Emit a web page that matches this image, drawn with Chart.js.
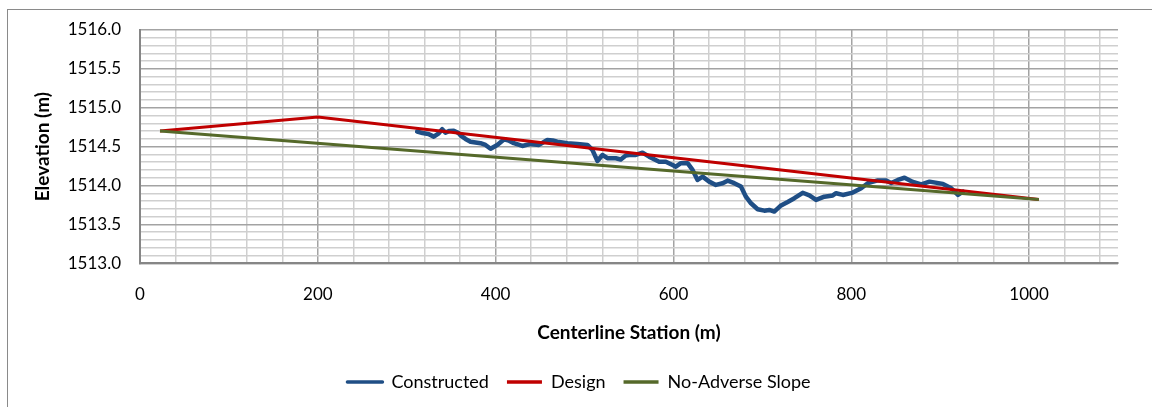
<!DOCTYPE html>
<html>
<head>
<meta charset="utf-8">
<script src="https://cdn.jsdelivr.net/npm/chart.js@4/dist/chart.umd.min.js"></script>
<style>
  html, body { margin: 0; padding: 0; background: #ffffff; overflow: hidden; }
  #wrap { position: relative; width: 1152px; height: 407px; }
  #frame { position: absolute; left: 7px; top: 9px; width: 1160px; height: 420px;
           border: 1px solid #8a8a8a; box-sizing: border-box; pointer-events: none; }
  canvas { position: absolute; left: 0; top: 0; }
</style>
</head>
<body>
<div id="wrap">
  <canvas id="chart" width="1152" height="407"></canvas>
  <div id="frame"></div>
</div>
<script>
// Surveyed centerline profile (station in m, elevation in m)
const constructedStation = [
  311.7, 317.7, 324.4, 330.4, 336.0, 339.9, 343.6, 348.1, 352.9, 358.6,
  360.5, 366.1, 371.7, 383.0, 388.6, 394.3, 401.8, 409.3, 414.6, 420.5,
  430.0, 439.3, 448.7, 458.1, 464.1, 469.4, 480.7, 492.0, 503.2, 508.8,
  514.5, 520.1, 525.7, 535.1, 540.7, 546.4, 550.1, 557.6, 565.2, 572.6,
  583.9, 591.4, 599.0, 602.7, 608.3, 615.9, 621.5, 627.1, 632.8, 640.2,
  647.7, 655.3, 660.9, 668.4, 675.9, 681.5, 687.2, 694.7, 702.2, 707.8,
  713.4, 721.0, 728.5, 736.0, 745.4, 752.9, 760.4, 769.7, 779.2, 782.9,
  790.5, 801.7, 811.1, 818.6, 829.9, 839.2, 844.9, 852.4, 859.9, 869.3,
  878.7, 888.0, 903.1, 912.5, 920.0, 925.6
];
const constructedElev = [
  1514.693, 1514.676, 1514.663, 1514.629, 1514.672, 1514.724, 1514.680, 1514.702, 1514.706, 1514.672,
  1514.644, 1514.599, 1514.564, 1514.544, 1514.522, 1514.473, 1514.522, 1514.593, 1514.580, 1514.544,
  1514.509, 1514.535, 1514.522, 1514.586, 1514.580, 1514.564, 1514.544, 1514.535, 1514.522, 1514.458,
  1514.316, 1514.393, 1514.351, 1514.351, 1514.335, 1514.387, 1514.393, 1514.393, 1514.423, 1514.371,
  1514.307, 1514.307, 1514.265, 1514.243, 1514.287, 1514.287, 1514.201, 1514.072, 1514.114, 1514.050,
  1514.008, 1514.030, 1514.063, 1514.030, 1513.986, 1513.857, 1513.772, 1513.695, 1513.677, 1513.686,
  1513.665, 1513.744, 1513.789, 1513.837, 1513.907, 1513.873, 1513.815, 1513.857, 1513.873, 1513.901,
  1513.879, 1513.909, 1513.965, 1514.030, 1514.066, 1514.066, 1514.033, 1514.072, 1514.100, 1514.046,
  1514.014, 1514.050, 1514.021, 1513.965, 1513.879, 1513.922
];

// Design grade line vertices
const designStation = [22.5, 200, 1011];
const designElev = [1514.70, 1514.88, 1513.82];

// No-adverse slope line (straight grade between the end points)
const slopeStation = [22.5, 1011];
const slopeElev = [1514.70, 1513.82];

// Axis settings
const xMin = 0, xMax = 1100, xMajor = 200, xMinor = 40;
const yMin = 1513, yMax = 1516, yMajor = 0.5, yMinor = 0.1;

const seriesNames = ['Constructed', 'Design', 'No-Adverse Slope'];
const seriesColors = ['#1F4E85', '#C00000', '#55692A'];

function pairs(xs, ys) { return xs.map((x, i) => ({ x: x, y: ys[i] })); }
function isMultiple(v, step) {
  const r = v / step;
  return Math.abs(r - Math.round(r)) < 1e-6;
}

const FONT = "Lato, 'Open Sans', sans-serif";
const minorGrid = '#cfcfcf';
const majorGrid = '#a3a3a3';
const axisLine = '#868686';

// Legend entries drawn as short, equal-weight line samples
function legendLabels(chart) {
  const items = Chart.defaults.plugins.legend.labels.generateLabels(chart);
  return items.map((it) => Object.assign(it, { lineWidth: 3.5, lineCap: 'round' }));
}

new Chart(document.getElementById('chart'), {
  type: 'scatter',
  data: {
    datasets: [
      { label: seriesNames[0], data: pairs(constructedStation, constructedElev),
        borderColor: seriesColors[0], backgroundColor: seriesColors[0],
        borderWidth: 4.5, showLine: true, pointRadius: 0, order: 3,
        borderJoinStyle: 'round', borderCapStyle: 'round' },
      { label: seriesNames[1], data: pairs(designStation, designElev),
        borderColor: seriesColors[1], backgroundColor: seriesColors[1],
        borderWidth: 3, showLine: true, pointRadius: 0, order: 2 },
      { label: seriesNames[2], data: pairs(slopeStation, slopeElev),
        borderColor: seriesColors[2], backgroundColor: seriesColors[2],
        borderWidth: 3, showLine: true, pointRadius: 0, order: 1 }
    ]
  },
  options: {
    responsive: false,
    animation: false,
    devicePixelRatio: 1,
    layout: { padding: { top: 30, right: 34, left: 40, bottom: 6 } },
    plugins: {
      tooltip: { enabled: false },
      legend: {
        position: 'bottom',
        labels: {
          font: { family: FONT, size: 18 },
          color: '#000000',
          boxWidth: 35,
          boxHeight: 0,
          padding: 18,
          generateLabels: legendLabels,
          sort: (a, b) => a.datasetIndex - b.datasetIndex
        }
      }
    },
    scales: {
      x: {
        type: 'linear',
        min: xMin, max: xMax,
        ticks: {
          stepSize: xMinor,
          autoSkip: false,
          maxRotation: 0,
          includeBounds: false,
          padding: 21,
          color: '#000000',
          font: { family: FONT, size: 17 },
          callback: (v) => isMultiple(v, xMajor) ? String(Math.round(v)) : ''
        },
        grid: {
          drawTicks: false,
          lineWidth: 1.5,
          color: (ctx) => (ctx.tick && isMultiple(ctx.tick.value, xMajor)) ? majorGrid : minorGrid
        },
        border: { display: true, color: axisLine, width: 2 },
        title: {
          display: true,
          text: 'Centerline Station (m)',
          color: '#000000',
          font: { family: FONT, size: 19, weight: 'bold' },
          padding: { top: 10, bottom: 11 }
        },
        afterFit: (scale) => { scale.height = 91.7; }
      },
      y: {
        type: 'linear',
        min: yMin, max: yMax,
        ticks: {
          stepSize: yMinor,
          autoSkip: false,
          padding: 19,
          color: '#000000',
          font: { family: FONT, size: 17 },
          callback: (v) => isMultiple(v - yMin, yMajor) ? v.toFixed(1) : ''
        },
        grid: {
          drawTicks: false,
          lineWidth: 1.5,
          color: (ctx) => (ctx.tick && isMultiple(ctx.tick.value - yMin, yMajor)) ? majorGrid : minorGrid
        },
        border: { display: true, color: axisLine, width: 2 },
        title: {
          display: true,
          text: 'Elevation (m)',
          color: '#000000',
          font: { family: FONT, size: 19, weight: 'bold' },
          padding: { top: -9, bottom: 0 }
        },
        afterFit: (scale) => { scale.width = 100; }
      }
    }
  }
});
</script>
</body>
</html>
